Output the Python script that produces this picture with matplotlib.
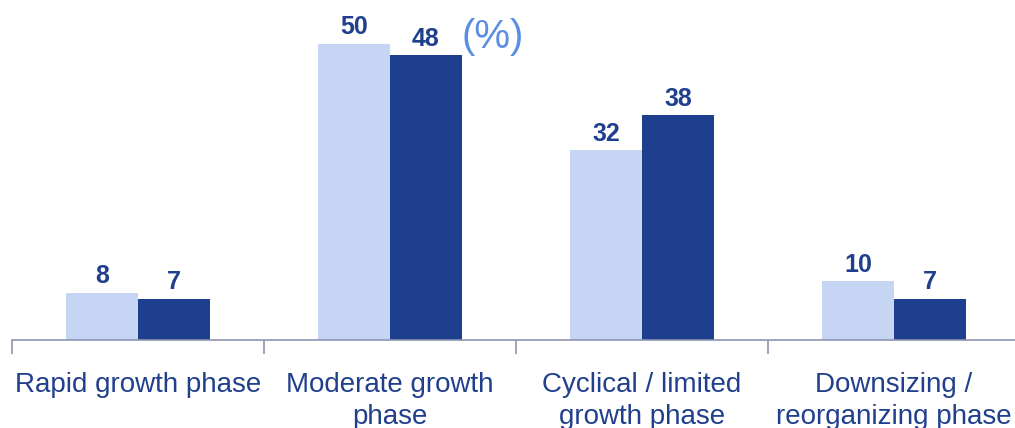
import matplotlib.pyplot as plt
import numpy as np

plt.rcParams['font.family'] = ['Liberation Sans', 'DejaVu Sans']

categories = ['Rapid growth phase', 'Moderate growth\nphase',
              'Cyclical / limited\ngrowth phase', 'Downsizing /\nreorganizing phase']
earlier = [8, 50, 32, 10]
latest = [7, 48, 38, 7]

light = '#C6D5F3'
dark = '#1E3F8E'
navy = '#203F8C'

fig = plt.figure(figsize=(10.15, 4.28), dpi=100)
ax = fig.add_axes([12 / 1015, 88 / 428, 1008 / 1015, 326 / 428])

x = np.arange(len(categories))
w = 72 / 252
b1 = ax.bar(x - w / 2, earlier, w, color=light)
b2 = ax.bar(x + w / 2, latest, w, color=dark)

for bars in (b1, b2):
    for rect in bars:
        ax.annotate(f'{rect.get_height():g}',
                    (rect.get_x() + rect.get_width() / 2, rect.get_height()),
                    xytext=(0, 3), textcoords='offset points',
                    ha='center', va='bottom', fontsize=18, fontweight='bold', color=navy)

ax.set_xlim(-0.5, 3.5)
ax.set_ylim(0, 55)
ax.set_yticks([])
for side in ('top', 'right', 'left'):
    ax.spines[side].set_visible(False)
ax.spines['bottom'].set_color('#8C94B0')
ax.spines['bottom'].set_linewidth(1.2)

ax.set_xticks(x)
ax.set_xticklabels(categories, fontsize=20, color=navy, linespacing=1.3)
ax.tick_params(axis='x', which='major', length=0, pad=23)
ax.set_xticks(np.arange(-0.5, 4, 1), minor=True)
ax.tick_params(axis='x', which='minor', length=10, width=1.2, color='#8C94B0')

fig.text(461 / 1015, 1 - 37 / 428, '(%)', fontsize=29, color='#5B8DE3', va='center', ha='left')

fig.savefig('out.png', dpi=100)
